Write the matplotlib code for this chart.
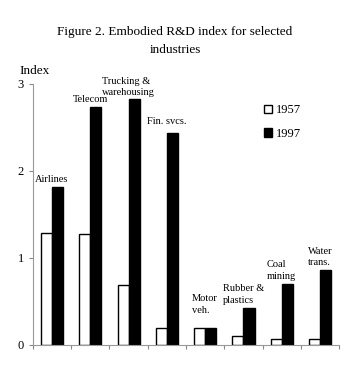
import numpy as np
import matplotlib.pyplot as plt

plt.rcParams['font.family'] = ['Liberation Serif', 'DejaVu Serif']

industries = ['Airlines', 'Telecom', 'Trucking &\nwarehousing', 'Fin. svcs.',
              'Motor\nveh.', 'Rubber &\nplastics', 'Coal\nmining', 'Water\ntrans.']
idx_1957 = [1.29, 1.28, 0.69, 0.19, 0.20, 0.10, 0.07, 0.07]
idx_1997 = [1.82, 2.74, 2.83, 2.44, 0.20, 0.43, 0.70, 0.86]
label_pad = [2, 2, 1, 5, 9, 2, 2, 2]   # points above the taller bar

x = np.arange(len(industries))
w = 0.29

fig = plt.figure(figsize=(3.5, 3.85), dpi=100)
ax = fig.add_axes([0.094, 0.104, 0.875, 0.678])

ax.bar(x - w / 2, idx_1957, w, color='white', edgecolor='black', linewidth=1.0, label='1957')
ax.bar(x + w / 2, idx_1997, w, color='black', edgecolor='black', linewidth=1.0, label='1997')

for i, name in enumerate(industries):
    top = max(idx_1957[i], idx_1997[i])
    ax.annotate(name, (x[i], top), xytext=(0, label_pad[i]), textcoords='offset points',
                ha='center', va='bottom', multialignment='left', fontsize=7.5,
                linespacing=1.4)

ax.set_xlim(-0.5, len(industries) - 0.5)
ax.set_ylim(0, 3)
ax.set_yticks([0, 1, 2, 3])
ax.set_xticks(np.arange(-0.5, len(industries)), [''] * (len(industries) + 1))
ax.tick_params(axis='both', direction='out', length=3, color='#888888', labelsize=9)
for s in ['top', 'right']:
    ax.spines[s].set_visible(False)
for s in ['left', 'bottom']:
    ax.spines[s].set_color('#999999')
    ax.spines[s].set_linewidth(0.8)

fig.text(0.5, 0.893, 'Figure 2. Embodied R&D index for selected\nindustries',
         ha='center', va='center', fontsize=9.5, linespacing=1.6)
fig.text(0.055, 0.815, 'Index', ha='left', va='center', fontsize=9.5)

ax.legend(loc='upper left', bbox_to_anchor=(0.735, 0.745), bbox_transform=fig.transFigure,
          frameon=False, fontsize=9, handlelength=0.7, handleheight=0.7,
          handletextpad=0.3, labelspacing=0.9, borderpad=0)

fig.savefig('out.png', dpi=100)
